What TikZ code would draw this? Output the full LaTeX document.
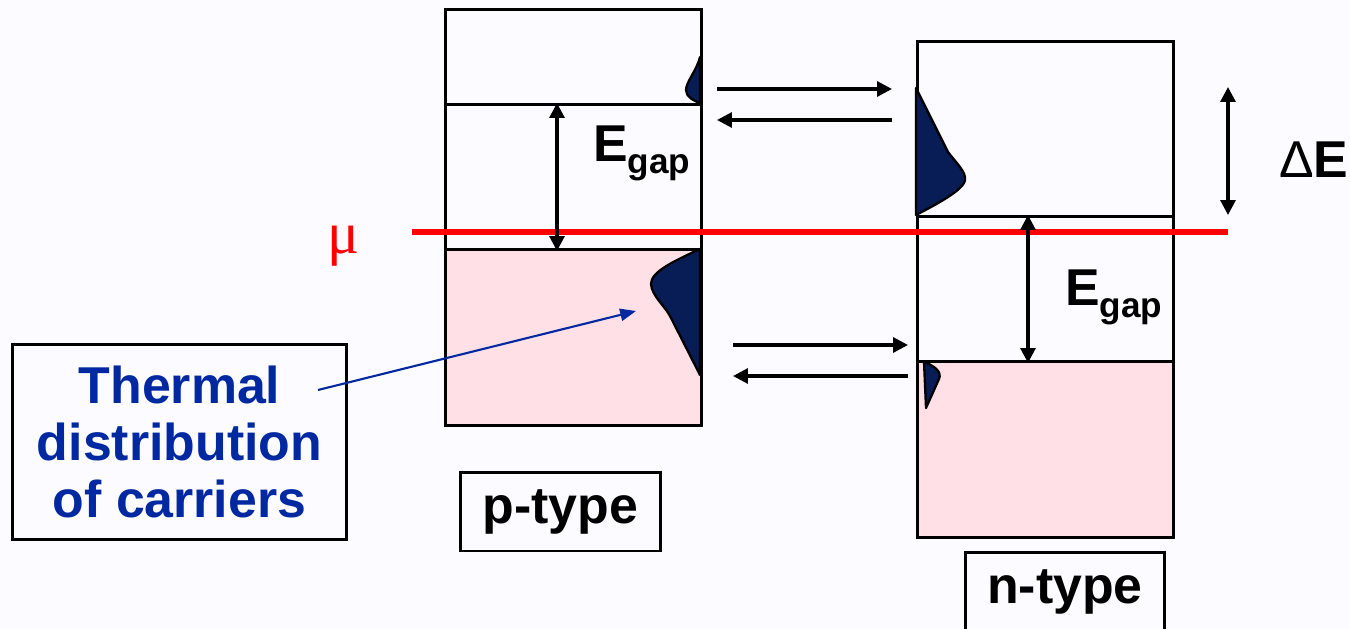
\documentclass[tikz,border=0pt]{standalone}
\usepackage{fontspec}
\setmainfont{Liberation Sans}
\newfontfamily\serifmu{Liberation Serif}
\usetikzlibrary{arrows.meta}
\definecolor{pagebg}{RGB}{252,251,255}
\definecolor{bandpink}{RGB}{255,224,230}
\definecolor{navyfill}{RGB}{8,28,85}
\definecolor{labelblue}{RGB}{0,40,160}
\definecolor{murred}{RGB}{255,0,0}
\newcommand\bigtext{\fontsize{29.5pt}{32.5pt}\selectfont\bfseries}
\newcommand\subtext{\fontsize{20pt}{22pt}\selectfont\bfseries}
\newcommand\egap{{\bigtext E}\raisebox{-7pt}{\subtext gap}}
\tikzset{
  band/.style={draw=black, line width=1.7pt, inner sep=0pt, anchor=north west, minimum width=5.12cm},
  emptyband/.style={band, fill=pagebg},
  fullband/.style={band, fill=bandpink},
  carriers/.style={fill=navyfill, draw=black, line width=1.3pt, line join=round},
  tip/.style={Triangle[length=8.5pt,width=8.5pt]},
  flow/.style={line width=1.8pt, -{Triangle[length=8.5pt,width=8.5pt]}},
  span/.style={line width=1.8pt, {Triangle[length=8.5pt,width=8.5pt]}-{Triangle[length=8.5pt,width=8.5pt]}},
  labelbox/.style={draw=black, line width=1.7pt, fill=pagebg, inner sep=0pt, align=center},
  pointer/.style={draw=labelblue, line width=1.2pt, -{Triangle[length=9pt,width=7pt]}}
}
\begin{document}
\begin{tikzpicture}[x=0.02cm,y=-0.02cm]
  \fill[pagebg] (0,0) rectangle (1350,629);
  \useasboundingbox (0,0) rectangle (1350,629);

  % p-type bands
  \node[emptyband, minimum height=1.9cm]  (pcb)  at (444,8)   {};
  \node[emptyband, minimum height=2.9cm]  (pgap) at (444,103) {};
  \node[fullband,  minimum height=3.52cm] (pvb)  at (444,248) {};

  % n-type bands
  \node[emptyband, minimum height=3.5cm]  (ncb)  at (916,40)  {};
  \node[emptyband, minimum height=2.9cm]  (ngap) at (916,215) {};
  \node[fullband,  minimum height=3.52cm] (nvb)  at (916,360) {};

  % thermal carrier distributions
  \path[carriers] (700,57) .. controls (697,70) and (686,82) .. (686,90)
        .. controls (686,97) and (694,101) .. (700,103) -- cycle;
  \path[carriers] (700,249) .. controls (672,262) and (651,272) .. (651,284)
        .. controls (652,296) and (664,305) .. (670,316) -- (700,375) -- cycle;
  \path[carriers] (916,88) -- (948,152) .. controls (958,165) and (966,172) .. (965,180)
        .. controls (964,190) and (935,205) .. (916,215) -- cycle;
  \path[carriers] (924,362) .. controls (935,366) and (942,372) .. (939,379)
        -- (926,408) -- cycle;

  % chemical potential
  \coordinate (muL) at (412,232);
  \coordinate (muR) at (1228,232);
  \draw[murred, line width=3.4pt] (muL) -- (muR);
  \node[text=murred, font=\serifmu\fontsize{34pt}{36pt}\selectfont, anchor=base west] (mu) at (321,253) {μ};

  % energy gaps
  \draw[span] (pgap.north -| 557,0) -- (pgap.south -| 557,0);
  \draw[span] (ngap.north -| 1028,0) -- (ngap.south -| 1028,0);
  \node[anchor=base west, inner sep=0pt] (pgaplbl) at (593,161) {\egap};
  \node[anchor=base west, inner sep=0pt] (ngaplbl) at (1065,305) {\egap};

  % band offset
  \coordinate (dEtop) at (1228,87);
  \coordinate (dEbot) at (1228,215);
  \draw[span] (dEtop) -- (dEbot);
  \node[anchor=base west, inner sep=0pt] (dElbl) at (1279,177)
       {\fontsize{29.5pt}{32pt}\selectfont Δ\bfseries E};

  % carrier transfer between the two materials
  \coordinate (cbA) at (717,89);   \coordinate (cbB) at (892,89);
  \coordinate (cbC) at (892,120);  \coordinate (cbD) at (717,120);
  \coordinate (vbA) at (733,345);  \coordinate (vbB) at (908,345);
  \coordinate (vbC) at (908,376);  \coordinate (vbD) at (733,376);
  \draw[flow] (cbA) -- (cbB);
  \draw[flow] (cbC) -- (cbD);
  \draw[flow] (vbA) -- (vbB);
  \draw[flow] (vbC) -- (vbD);

  % labels
  \node[labelbox, minimum width=6.7cm, minimum height=3.92cm, text=labelblue,
        font=\bigtext] (thermal) at (179.5,442)
       {Thermal\\distribution\\of carriers};
  \coordinate (thermtail) at (318,390);
  \coordinate (thermtip) at (636,311);
  \draw[pointer] (thermtail) -- (thermtip);

  \node[labelbox, minimum width=4.02cm, minimum height=1.58cm, font=\bigtext] (ptype)
       at (560.5,511.5) {p-type};
  \node[labelbox, minimum width=4.0cm, minimum height=1.6cm, font=\bigtext] (ntype)
       at (1065,592) {n-type};
\end{tikzpicture}
\end{document}
